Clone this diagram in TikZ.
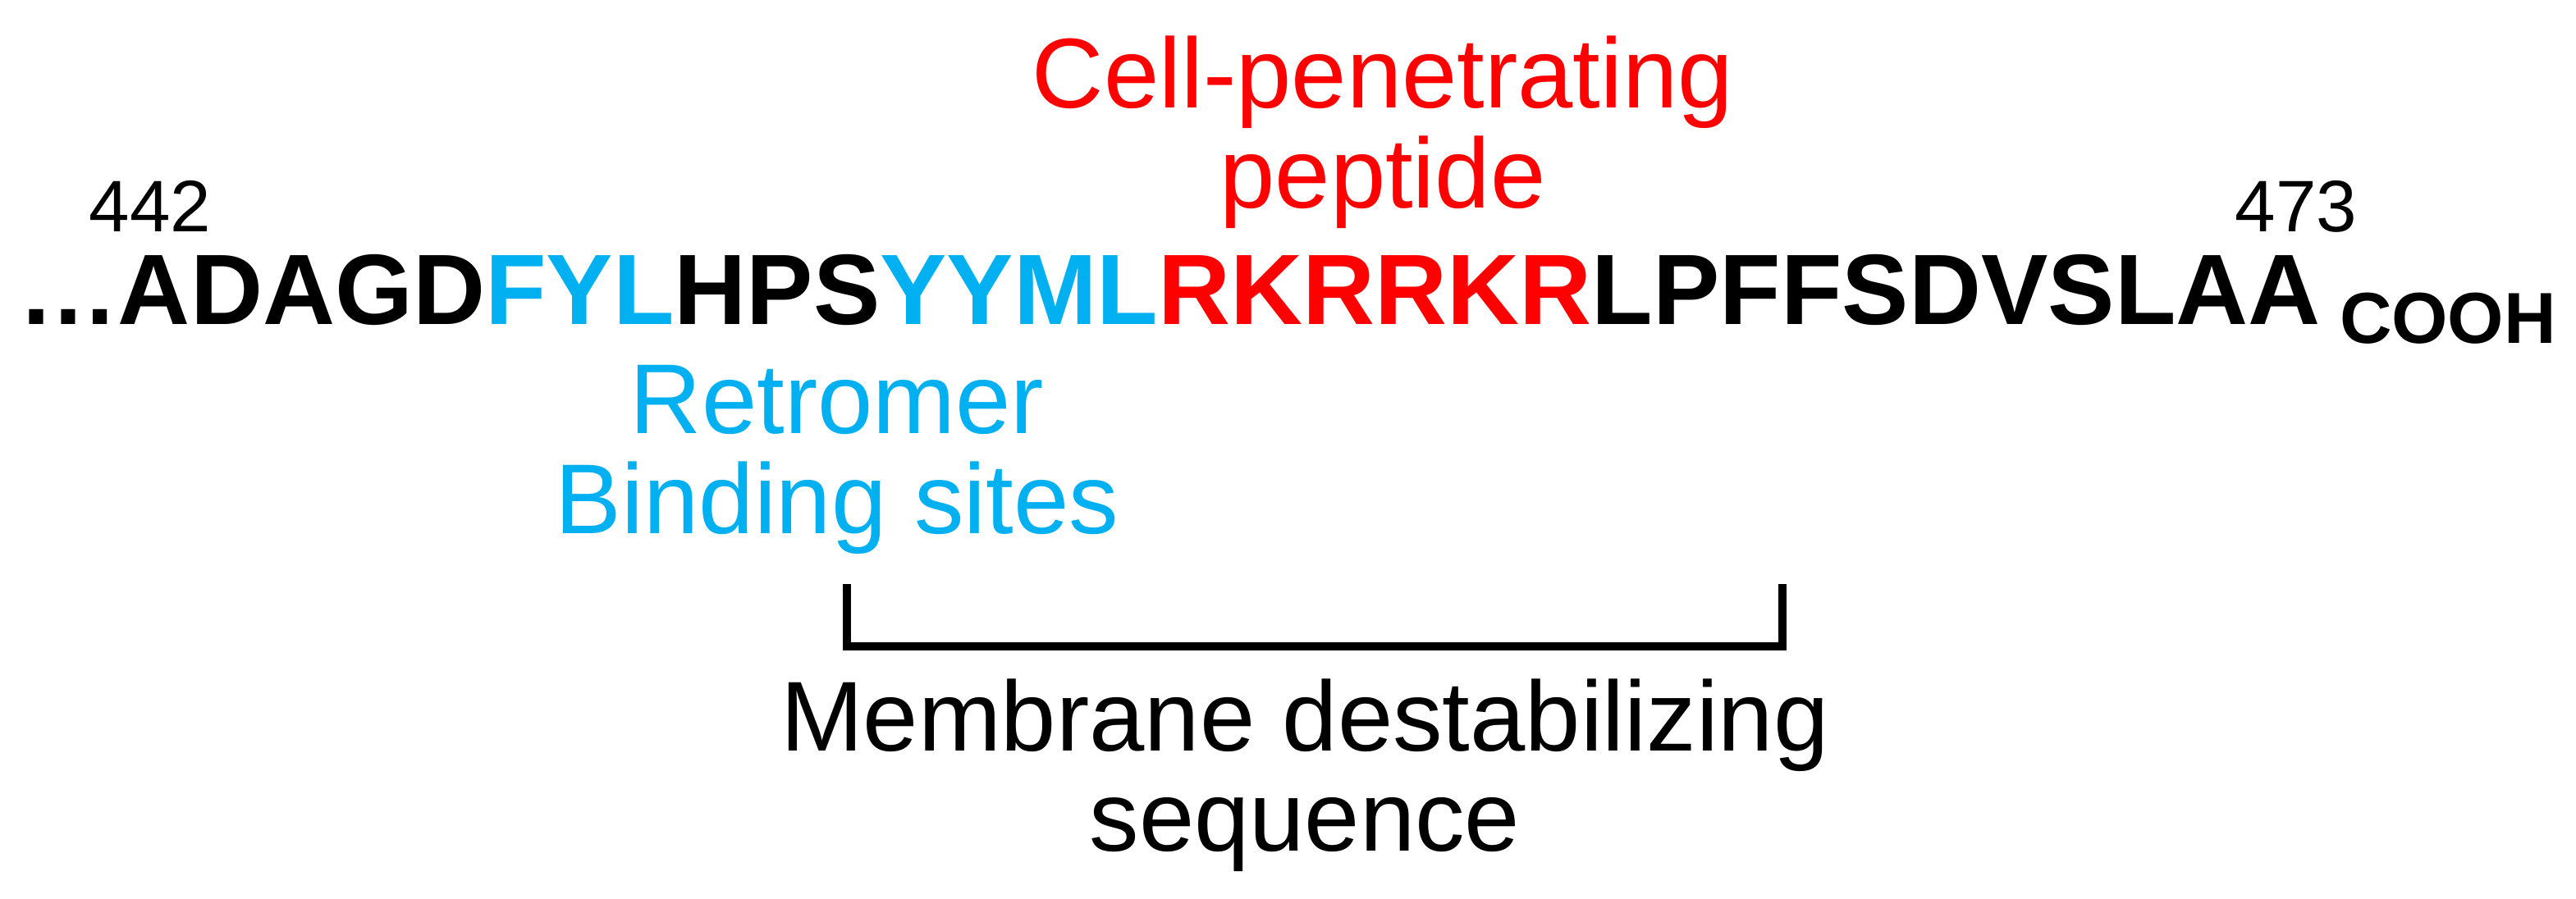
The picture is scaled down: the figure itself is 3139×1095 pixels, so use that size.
\documentclass[tikz,border=0pt]{standalone}
\usepackage{fontspec}
\setmainfont{Liberation Sans}
\definecolor{cpp}{HTML}{FF0000}
\definecolor{retro}{HTML}{00B0F0}
\tikzset{
  seq/.style={font=\fontsize{12.2}{12.2}\selectfont\bfseries, inner sep=0pt, anchor=base west},
  lbl/.style={font=\fontsize{12.1}{12.2}\selectfont, align=center, inner sep=0pt, anchor=base},
  num/.style={font=\fontsize{8.9}{9}\selectfont, inner sep=0pt, anchor=base west},
}
\begin{document}
\begin{tikzpicture}[x=0.1pt,y=-0.1pt]
\useasboundingbox (0,0) rectangle (3139,1095);
% sequence
\node[seq] (seq) at (20,395) {…ADAGD\textcolor{retro}{FYL}HPS\textcolor{retro}{YYML}\textcolor{cpp}{RKRRKR}LPFFSDVSLAA};
\node[seq,font=\fontsize{8.8}{9}\selectfont\bfseries] (cooh) at (2849,418) {COOH};
\node[num] (first) at (107,282) {442};
\node[num] (last) at (2722,282) {473};
% labels (base = last line)
\node[lbl,text=cpp] (cpp) at (1685,253) {Cell-penetrating\\peptide};
\node[lbl,text=retro] (retromer) at (1020,650) {Retromer\\Binding sites};
% bracket
\coordinate (bl) at (1032,712);
\coordinate (br) at (2172,712);
\draw[line width=1pt] (bl) -- ++(0,76) -| (br);
\node[lbl] (mds) at (1590,1037) {Membrane destabilizing\\sequence};
\end{tikzpicture}
\end{document}
